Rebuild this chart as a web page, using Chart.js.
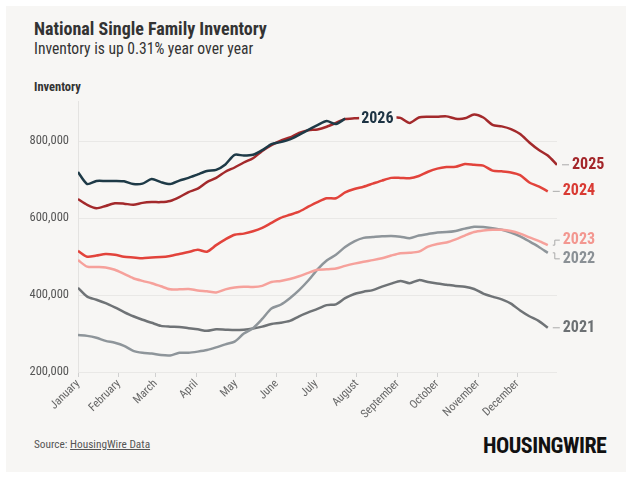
<!DOCTYPE html>
<html>
<head>
<meta charset="utf-8">
<script src="https://cdn.jsdelivr.net/npm/chart.js@4"></script>
<style>
  html, body { margin: 0; padding: 0; background: #fff; }
  body { width: 635px; height: 477px; position: relative; overflow: hidden;
         font-family: "Roboto Condensed", "Liberation Sans Narrow", "DejaVu Sans Condensed", sans-serif; color: #333; }
  .card { position: absolute; left: 6px; top: 6px; width: 620px; height: 466px; background: #f7f6f4; }
  .title { position: absolute; left: 34px; top: 18px; font-size: 18px; font-weight: bold; color: #333; }
  .subtitle { position: absolute; left: 34px; top: 40px; font-size: 15.6px; color: #333; }
  .ytitle { position: absolute; left: 34px; top: 79px; font-size: 12.5px; font-weight: bold; color: #333; }
  .source { position: absolute; left: 34px; top: 438px; font-size: 11.3px; color: #555; }
  .source span { text-decoration: underline; }
  .logo { position: absolute; left: 483px; top: 433px; font-size: 22px; font-weight: bold; color: #111; letter-spacing: -0.5px; }
  canvas { position: absolute; left: 0; top: 0; }
</style>
</head>
<body>
<div class="card"></div>
<div class="title">National Single Family Inventory</div>
<div class="subtitle">Inventory is up 0.31% year over year</div>
<div class="ytitle">Inventory</div>
<div class="source">Source: <span>HousingWire Data</span></div>
<div class="logo">HOUSINGWIRE</div>
<canvas id="chart" width="635" height="477"></canvas>
<script>
// month tick labels (day of year of the 1st)
const monthNames = ['January', 'February', 'March', 'April', 'May', 'June', 'July',
  'August', 'September', 'October', 'November', 'December'];
const monthStartDays = [0, 31, 59, 90, 120, 151, 181, 212, 243, 273, 304, 334];
const yTicks = [200, 400, 600, 800];

// weekly inventory, thousands of homes
const inv2026 = [720, 689, 697, 697, 697, 696, 689, 690, 702, 694, 689, 698, 705, 714, 723, 726,
  740, 765, 763, 765, 777, 793, 798, 805, 817, 830, 842, 853, 845, 859];
const inv2025 = [650, 635, 626, 632, 639, 638, 635, 640, 642, 642, 645, 655, 668, 677, 694, 705,
  721, 732, 745, 756, 775, 790, 802, 810, 822, 829, 831, 838, 848, 858, 860, 861, 862, 862, 863,
  861, 848, 862, 864, 864, 865, 859, 860, 870, 862, 843, 839, 832, 819, 797, 778, 763, 739];
const inv2024 = [515, 500, 503, 507, 505, 500, 498, 496, 498, 499, 502, 507, 512, 518, 513, 530,
  545, 557, 560, 566, 575, 588, 601, 609, 617, 630, 642, 652, 652, 667, 676, 682, 690, 698, 705,
  705, 704, 710, 721, 729, 733, 734, 741, 739, 737, 724, 722, 719, 712, 693, 683, 670];
const inv2023 = [491, 474, 473, 472, 466, 455, 444, 437, 431, 423, 415, 415, 416, 412, 410, 407,
  415, 420, 422, 421, 424, 434, 437, 442, 449, 458, 466, 467, 469, 476, 482, 487, 491, 496, 503,
  509, 510, 513, 526, 533, 537, 545, 555, 564, 568, 570, 570, 567, 560, 550, 541, 530];
const inv2022 = [296, 294, 289, 281, 276, 268, 255, 250, 248, 244, 243, 250, 250, 253, 257, 264,
  272, 279, 300, 314, 338, 365, 375, 392, 413, 438, 467, 490, 505, 525, 540, 549, 551, 553, 554,
  552, 548, 555, 559, 563, 564, 567, 573, 578, 577, 574, 570, 563, 553, 540, 526, 510];
const inv2021 = [419, 396, 388, 379, 368, 356, 345, 336, 328, 320, 318, 317, 314, 311, 307, 311,
  310, 309, 310, 313, 318, 325, 328, 333, 345, 355, 364, 374, 376, 392, 403, 409, 413, 422, 430,
  437, 431, 439, 434, 430, 427, 424, 422, 416, 404, 396, 389, 378, 360, 345, 333, 315];

const weekly = vals => vals.map((v, i) => ({ x: i * 7, y: v }));

const series = [
  { label: '2026', data: inv2026, color: '#1e3a47', text: '#1d3343' },
  { label: '2025', data: inv2025, color: '#a3292b', text: '#a3262a' },
  { label: '2024', data: inv2024, color: '#e2433b', text: '#d93a33' },
  { label: '2023', data: inv2023, color: '#f6a19b', text: '#f39790' },
  { label: '2022', data: inv2022, color: '#8e959a', text: '#8a9095' },
  { label: '2021', data: inv2021, color: '#6f7376', text: '#6c7073' }
];
const labelShift = { '2023': -5, '2022': 6 };

const FONT = '"Roboto Condensed", "Liberation Sans Narrow", "DejaVu Sans Condensed", sans-serif';

// year labels at the end of each line
const endLabels = {
  id: 'endLabels',
  afterDatasetsDraw(chart) {
    const ctx = chart.ctx;
    ctx.save();
    ctx.font = 'bold 16px ' + FONT;
    ctx.textBaseline = 'middle';
    chart.data.datasets.forEach((ds, i) => {
      const pts = chart.getDatasetMeta(i).data;
      const end = pts[pts.length - 1];
      if (ds.label === '2026') {
        const tx = end.x + 16;
        const w = ctx.measureText(ds.label).width;
        ctx.fillStyle = '#f7f6f4';
        ctx.fillRect(tx - 2, end.y - 9, w + 5, 18);
        ctx.fillStyle = ds.textColor;
        ctx.fillText(ds.label, tx, end.y);
        return;
      }
      const ly = end.y + (labelShift[ds.label] || 0);
      ctx.strokeStyle = '#aaaaaa';
      ctx.lineWidth = 1;
      ctx.beginPath();
      ctx.moveTo(end.x + 5, end.y);
      if (ly !== end.y) { ctx.lineTo(end.x + 7, end.y); ctx.lineTo(end.x + 7, ly); }
      ctx.lineTo(end.x + 12, ly);
      ctx.stroke();
      ctx.fillStyle = ds.textColor;
      ctx.fillText(ds.label, end.x + 15, ly);
    });
    ctx.restore();
  }
};

new Chart(document.getElementById('chart'), {
  type: 'line',
  data: {
    datasets: series.map(s => ({
      label: s.label,
      data: weekly(s.data),
      borderColor: s.color,
      textColor: s.text,
      borderWidth: 2.5,
      pointRadius: 0,
      tension: 0.25,
      fill: false
    }))
  },
  options: {
    responsive: false,
    animation: false,
    layout: { padding: { left: 0, right: 78, top: 101, bottom: 0 } },
    plugins: { legend: { display: false }, tooltip: { enabled: false } },
    scales: {
      x: {
        type: 'linear',
        min: 0,
        max: 364,
        afterBuildTicks: axis => { axis.ticks = monthStartDays.map(v => ({ value: v })); },
        afterFit: axis => { axis.height = 105; },
        ticks: {
          autoSkip: false,
          maxRotation: 45,
          minRotation: 45,
          padding: 0,
          color: '#666',
          font: { family: FONT, size: 11.5 },
          callback: v => monthNames[monthStartDays.indexOf(v)]
        },
        grid: { drawOnChartArea: false, drawTicks: true, tickLength: 5, color: '#d0d0d0' },
        border: { display: false }
      },
      y: {
        min: 200,
        max: 905,
        afterBuildTicks: axis => { axis.ticks = yTicks.map(v => ({ value: v })); },
        afterFit: axis => { axis.width = 78; },
        ticks: {
          padding: 9,
          color: '#555',
          font: { family: FONT, size: 12.5 },
          callback: v => (v * 1000).toLocaleString('en-US')
        },
        grid: { color: '#e9e8e6', drawTicks: false },
        border: { display: true, color: '#e4e3e1' }
      }
    }
  },
  plugins: [endLabels]
});
</script>
</body>
</html>
